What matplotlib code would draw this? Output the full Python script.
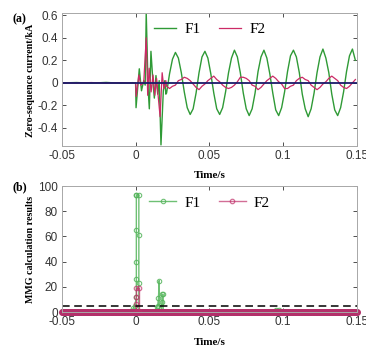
import matplotlib
matplotlib.use('Agg')
import matplotlib.pyplot as plt
import numpy as np

plt.rcParams['axes.unicode_minus'] = False
plt.rcParams['font.family'] = ['Liberation Sans', 'DejaVu Sans']

# ================== data: (a) zero-sequence current ==================
# pre-fault + transient part
f1_tr_t = [-0.05, -0.04, -0.03, -0.02, -0.01, -0.002, 0.0, 0.0003, 0.0025, 0.004,
           0.0055, 0.0065, 0.0072, 0.0085, 0.0093, 0.0104, 0.0118, 0.0127, 0.0138,
           0.015, 0.016, 0.0172, 0.0188, 0.0198, 0.0205]
f1_tr_v = [0.0, 0.003, -0.002, 0.004, -0.003, 0.002, 0.0, -0.22, 0.125, -0.07,
           0.02, -0.02, 0.62, -0.05, -0.23, 0.28, 0.0, -0.135, 0.065,
           -0.1, 0.02, -0.55, -0.07, 0.02, -0.1]
f2_tr_t = [-0.05, -0.04, -0.03, -0.02, -0.01, -0.002, 0.0, 0.0004, 0.0022, 0.0035,
           0.0055, 0.0072, 0.0082, 0.0092, 0.0105, 0.0118, 0.013, 0.0142, 0.0166,
           0.018, 0.0192, 0.0205]
f2_tr_v = [0.0, -0.002, 0.003, -0.003, 0.002, -0.002, 0.0, -0.12, 0.07, -0.02,
           0.0, 0.40, -0.11, 0.13, -0.08, 0.07, -0.11, 0.04, -0.30,
           0.09, -0.05, 0.02]

# steady state, sampled every 2 ms from 0.021 s
ss_t = np.round(np.arange(0.021, 0.1495, 0.002), 3)
f1_ss = [-0.09, 0.08, 0.21, 0.27, 0.22, 0.09, -0.08, -0.22, -0.28, -0.23,
         -0.09, 0.09, 0.23, 0.28, 0.22, 0.08, -0.09, -0.23, -0.28, -0.22,
         -0.08, 0.09, 0.22, 0.29, 0.23, 0.09, -0.09, -0.23, -0.29, -0.23,
         -0.09, 0.10, 0.23, 0.29, 0.22, 0.08, -0.09, -0.24, -0.29, -0.22,
         -0.08, 0.10, 0.24, 0.29, 0.23, 0.09, -0.10, -0.23, -0.30, -0.23,
         -0.09, 0.09, 0.23, 0.30, 0.22, 0.09, -0.10, -0.24, -0.29, -0.22,
         -0.08, 0.10, 0.24, 0.30, 0.20]
f2_ss = [-0.03, -0.05, -0.03, -0.02, 0.02, 0.03, 0.05, 0.04, 0.02, -0.01,
         -0.04, -0.06, -0.03, -0.01, 0.02, 0.04, 0.06, 0.03, 0.01, -0.02,
         -0.04, -0.05, -0.04, -0.02, 0.01, 0.05, 0.05, 0.04, 0.02, -0.02,
         -0.03, -0.06, -0.04, -0.01, 0.02, 0.04, 0.06, 0.04, 0.01, -0.01,
         -0.05, -0.05, -0.03, -0.02, 0.02, 0.04, 0.05, 0.03, 0.02, -0.02,
         -0.04, -0.06, -0.04, -0.01, 0.01, 0.04, 0.06, 0.04, 0.02, -0.02,
         -0.04, -0.05, -0.03, 0.0, 0.03]

# ================== data: (b) MMG results ==================
mmg_t = np.round(np.arange(-0.05, 0.1501, 0.001), 4)   # sample grid, value 0
f1_ev_t = [-0.003, -0.0015, -0.0005, 0.0005, 0.0005, 0.0005, 0.0005, 0.0005,
           0.0005, 0.0022, 0.0022, 0.0022, 0.0022]
f1_ev_v = [1, 3, 5, 12, 26, 40, 65, 93, 93, 93, 61, 23, 0]
f1_ev2_t = [0.0135, 0.0145, 0.015, 0.0155, 0.016, 0.016, 0.0175, 0.0178, 0.018, 0.0187, 0.0187]
f1_ev2_v = [0, 4, 5, 11, 25, 0, 0, 8, 14, 14, 0]
f1_ev3_t = [0.0955, 0.0975]
f1_ev3_v = [1.5, 1.5]
f2_ev_t = [0.0, 0.0, 0.0, 0.0, 0.0021, 0.0021]
f2_ev_v = [0, 6, 12, 19, 19, 0]
threshold = 5

xticks = [-0.05, 0, 0.05, 0.1, 0.15]
xticklabels = ['-0.05', '0', '0.05', '0.1', '0.15']
yticks_a = [-0.4, -0.2, 0, 0.2, 0.4, 0.6]
yticklabels_a = ['-0.4', '-0.2', '0', '0.2', '0.4', '0.6']
yticks_b = [0, 20, 40, 60, 80, 100]

GREEN = '#2f9a36'
RED = '#cc2a66'
NAVY = '#1b1b6a'
SERIF = ['Liberation Serif', 'DejaVu Serif']

fig = plt.figure(figsize=(3.66, 3.51), dpi=100)
ax1 = fig.add_axes([0.169, 0.584, 0.806, 0.379])
ax2 = fig.add_axes([0.169, 0.111, 0.806, 0.359])

# ----- (a) -----
t1 = list(f1_tr_t) + list(ss_t)
v1 = list(f1_tr_v) + list(f1_ss)
t2 = list(f2_tr_t) + list(ss_t)
v2 = list(f2_tr_v) + list(f2_ss)
ax1.plot(t1, v1, color=GREEN, lw=1.0, label='F1')
ax1.plot(t2, v2, color=RED, lw=0.9, label='F2')
ax1.plot([-0.05, 0.15], [0, 0], color=NAVY, lw=1.3)
ax1.set_xlim(-0.05, 0.15)
ax1.set_ylim(-0.56, 0.62)
ax1.set_yticks(yticks_a)
ax1.set_yticklabels(yticklabels_a)
ax1.set_ylabel('Zero-sequence current/kA', family=SERIF, fontweight='bold', fontsize=7.2)
ax1.yaxis.set_label_coords(-0.09, 0.49)
ax1.legend(loc='upper center', bbox_to_anchor=(0.5, 1.03), ncol=2, frameon=False,
           prop={'family': SERIF, 'size': 11}, handlelength=1.5, columnspacing=1.2,
           handletextpad=0.5)

# ----- (b) -----
ax2.plot(mmg_t, [0] * len(mmg_t), color='#55b55c', lw=1.0, marker='o', ms=3.2,
         mfc='none', mew=0.8, clip_on=False)
mk = dict(color='#55b55c', lw=1.0, marker='o', ms=3.2, mfc='none', mew=0.8, alpha=0.85)
ax2.plot(f1_ev_t, f1_ev_v, label='F1', **mk)
ax2.plot(f1_ev2_t, f1_ev2_v, **mk)
ax2.plot(f1_ev3_t, f1_ev3_v, **mk)
ax2.plot(mmg_t, [0] * len(mmg_t), color='#b3306a', lw=1.5, marker='o', ms=3.6,
         mfc='none', mew=1.4, clip_on=False)
ax2.plot(f2_ev_t, f2_ev_v, color='#c0306a', lw=1.0, marker='o', ms=3.2, mfc='none',
         mew=0.9, alpha=0.7, label='F2')
ax2.axhline(threshold, color='black', lw=1.1, ls=(0, (5, 3)))
ax2.set_xlim(-0.05, 0.15)
ax2.set_ylim(0, 100)
ax2.set_yticks(yticks_b)
ax2.set_ylabel('MMG calculation results', family=SERIF, fontweight='bold', fontsize=7.2)
ax2.yaxis.set_label_coords(-0.09, 0.5)
ax2.legend(loc='upper center', bbox_to_anchor=(0.5, 1.03), ncol=2, frameon=False,
           prop={'family': SERIF, 'size': 11}, handlelength=1.8, columnspacing=1.2,
           handletextpad=0.5)

for ax, ylab in ((ax1, -0.186), (ax2, -0.206)):
    ax.set_xticks(xticks)
    ax.set_xticklabels(xticklabels)
    ax.set_xlabel('Time/s', family=SERIF, fontweight='bold', fontsize=8)
    ax.xaxis.set_label_coords(0.5, ylab)
    ax.tick_params(direction='in', length=3, width=0.6, labelsize=8.5,
                   colors='#333333', top=True, right=True, pad=3)
    for sp in ax.spines.values():
        sp.set_color('#a8a8a8')
        sp.set_linewidth(0.7)

fig.text(0.033, 0.946, '(a)', family=SERIF, fontweight='bold', fontsize=8.5,
         va='center', ha='left')
fig.text(0.033, 0.467, '(b)', family=SERIF, fontweight='bold', fontsize=8.5,
         va='center', ha='left')

plt.savefig('out.png', dpi=100, facecolor='white')
